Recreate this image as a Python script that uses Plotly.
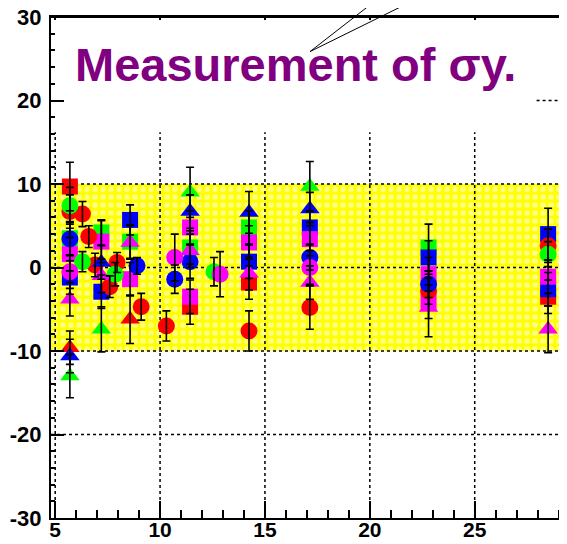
import plotly.graph_objects as go

# ---------------- data ----------------
x_range = [4.8, 29.4]
y_range = [-30, 30]
band = [-10, 10]
x_ticks = [5, 10, 15, 20, 25]
x_tick_labels = ["5", "10", "15", "20", "25"]
y_ticks = [-30, -20, -10, 0, 10, 20, 30]
y_tick_labels = ["-30", "-20", "-10", "0", "10", "20", "30"]
grid_x = [5, 10, 15, 20, 25]
grid_y = [-20, -10, 0, 10]
grid_top = 16.2          # grid lines hidden above this (title box)
grid_y20_start = 27.95   # the y=20 grid line is only visible from here

title_text = "Measurement of σy."

# red circles
rc_x = [5.7, 6.3, 6.6, 6.9, 7.6, 7.95, 9.1, 10.3, 14.24, 17.14, 22.8, 28.5]
rc_y = [6.7, 6.4, 3.7, 0.3, -2.3, 0.6, -4.7, -7.0, -7.6, -4.8, -2.8, 2.6]
rc_e = [2.0, 1.5, 1.3, 1.4, 1.3, 1.2, 1.6, 1.8, 2.4, 2.6, 1.6, 2.0]
# green circles
gc_x = [5.7, 6.3, 7.86, 12.57, 28.5]
gc_y = [7.4, 0.7, -0.8, -0.5, 1.6]
gc_e = [2.2, 1.2, 1.4, 1.7, 1.5]
# blue circles
bc_x = [5.7, 8.9, 10.7, 11.43, 17.14, 22.8]
bc_y = [3.4, 0.2, -1.4, 0.7, 1.2, -2.0]
bc_e = [2.0, 1.0, 1.7, 2.0, 1.5, 1.6]
# magenta circles
mc_x = [5.7, 10.7, 12.86, 17.14]
mc_y = [-0.5, 1.2, -0.8, 0.0]
mc_e = [2.0, 2.8, 2.7, 2.0]
# red squares
rs_x = [5.7, 11.43, 14.24, 28.5]
rs_y = [9.7, -4.7, -1.8, -3.5]
rs_e = [2.9, 2.1, 2.0, 2.0]
# green squares
gs_x = [5.7, 7.2, 8.57, 11.43, 14.24, 22.8]
gs_y = [3.5, 4.2, 3.1, 2.4, 4.8, 2.4]
gs_e = [2.0, 1.5, 2.0, 2.0, 2.0, 2.8]
# blue squares
bs_x = [5.7, 7.2, 8.57, 14.24, 17.14, 22.8, 28.5, 28.5]
bs_y = [-1.2, -2.9, 5.7, 0.7, 4.8, 1.2, 4.0, -2.6]
bs_e = [2.0, 2.0, 1.8, 2.0, 2.0, 2.0, 3.1, 2.0]
# magenta squares
ms_x = [5.7, 7.2, 8.57, 11.43, 11.43, 14.24, 17.14, 22.8, 22.8, 28.5]
ms_y = [1.6, 3.1, -1.4, 4.8, -3.5, 3.0, 3.4, -0.8, -4.1, -1.1]
ms_e = [2.0, 2.5, 2.0, 2.0, 2.0, 2.0, 2.0, 2.0, 2.0, 2.0]
# red triangles
rt_x = [5.7, 8.57]
rt_y = [-9.6, -6.2]
rt_e = [2.0, 2.9]
# green triangles
gt_x = [5.7, 7.2, 11.43, 17.14]
gt_y = [-13.0, -7.4, 9.0, 9.7]
gt_e = [2.6, 2.7, 3.0, 3.0]
# blue triangles
bt_x = [5.7, 7.2, 11.43, 14.24, 17.14]
bt_y = [-10.6, 0.6, 6.7, 6.6, 7.0]
bt_e = [2.0, 2.0, 2.0, 2.5, 2.0]
# magenta triangles
mt_x = [5.7, 7.2, 8.57, 11.43, 14.24, 17.14, 22.8, 28.5]
mt_y = [-3.8, -1.0, 3.0, 2.0, -0.7, -1.8, -4.8, -7.4]
mt_e = [2.0, 2.0, 2.0, 2.0, 2.0, 2.0, 3.5, 2.8]

RED, GREEN, BLUE, MAGENTA = "#ff0000", "#00ff00", "#0000ff", "#ff00ff"

series = [
    # squares first, then circles, then triangles
    (rs_x, rs_y, rs_e, RED, "square"),
    (gs_x, gs_y, gs_e, GREEN, "square"),
    (bs_x, bs_y, bs_e, BLUE, "square"),
    (ms_x, ms_y, ms_e, MAGENTA, "square"),
    (rc_x, rc_y, rc_e, RED, "circle"),
    (gc_x, gc_y, gc_e, GREEN, "circle"),
    (bc_x, bc_y, bc_e, BLUE, "circle"),
    (mc_x, mc_y, mc_e, MAGENTA, "circle"),
    (rt_x, rt_y, rt_e, RED, "triangle-up"),
    (gt_x, gt_y, gt_e, GREEN, "triangle-up"),
    (bt_x, bt_y, bt_e, BLUE, "triangle-up"),
    (mt_x, mt_y, mt_e, MAGENTA, "triangle-up"),
]
marker_size = {"square": 16, "circle": 17, "triangle-up": 17}

fig = go.Figure()

# hatched yellow band: white holes on yellow
fig.add_trace(go.Scatter(
    x=[x_range[0], x_range[1], x_range[1], x_range[0], x_range[0]],
    y=[band[0], band[0], band[1], band[1], band[0]],
    mode="lines", line=dict(width=0), fill="toself", fillcolor="#ffff00",
    fillpattern=dict(shape=".", fgcolor="white", bgcolor="#ffff00",
                     size=8, solidity=0.4),
    hoverinfo="skip"))

# dotted grid lines (drawn above the band)
gx, gy = [], []
for g in grid_x:
    gx += [g, g, None]
    gy += [y_range[0], grid_top, None]
for g in grid_y:
    gx += [x_range[0], x_range[1], None]
    gy += [g, g, None]
gx += [grid_y20_start, x_range[1], None]
gy += [20, 20, None]
fig.add_trace(go.Scatter(x=gx, y=gy, mode="lines",
                         line=dict(color="black", width=1.5, dash="3px,3px"),
                         hoverinfo="skip"))

# markers
for sx, sy, se, col, sym in series:
    fig.add_trace(go.Scatter(x=sx, y=sy, mode="markers",
                             marker=dict(color=col, symbol=sym,
                                         size=marker_size[sym],
                                         line=dict(width=0))))

# error bars on top
for sx, sy, se, col, sym in series:
    fig.add_trace(go.Scatter(x=sx, y=sy, mode="markers",
                             marker=dict(opacity=0, size=2),
                             error_y=dict(type="data", array=se, color="black",
                                          thickness=1.6, width=4)))

# dummy trace for top axis
fig.add_trace(go.Scatter(x=[None], y=[None], xaxis="x2", showlegend=False))

tickfont = dict(family="Liberation Sans, Arial, sans-serif", size=22,
                color="black", weight="bold")
xtickfont = dict(tickfont, size=21)

# the page body adds an 8px offset; compensate in size and margins
fig.update_layout(
    width=559, height=536,
    margin=dict(l=43, r=0, t=9, b=26, autoexpand=False),
    plot_bgcolor="white", paper_bgcolor="white",
    showlegend=False,
    xaxis=dict(range=x_range, tickvals=x_ticks, ticktext=x_tick_labels,
               showgrid=False, zeroline=False,
               automargin=False, ticklabeloverflow="allow",
               showline=True, linecolor="black", linewidth=2,
               ticks="inside", ticklen=17, tickwidth=2, tickcolor="black",
               minor=dict(dtick=1, tick0=5, ticks="inside", ticklen=8,
                          tickwidth=1.5, tickcolor="black", showgrid=False),
               tickfont=xtickfont, ticklabelstandoff=-8),
    xaxis2=dict(range=x_range, overlaying="x", side="top", tickvals=x_ticks,
                automargin=False,
                showticklabels=False, showgrid=False, zeroline=False,
                showline=True, linecolor="black", linewidth=2,
                ticks="inside", ticklen=3, tickwidth=1.5, tickcolor="black"),
    yaxis=dict(range=y_range, tickvals=y_ticks, ticktext=y_tick_labels,
               showgrid=False, zeroline=False,
               automargin=False, ticklabeloverflow="allow",
               showline=True, linecolor="black", linewidth=2,
               ticks="inside", ticklen=13, tickwidth=2, tickcolor="black",
               minor=dict(dtick=2, tick0=0, ticks="inside", ticklen=4,
                          tickwidth=1.5, tickcolor="black", showgrid=False),
               tickfont=tickfont, ticklabelstandoff=3),
)

# top frame line
fig.add_shape(type="line", xref="paper", yref="paper", x0=0, x1=1, y0=1, y1=1,
              line=dict(color="black", width=2))

# title text
fig.add_annotation(text=title_text, xref="paper", yref="paper",
                   x=0.0426, y=0.905, xanchor="left", yanchor="middle",
                   showarrow=False,
                   font=dict(family="Liberation Sans, Arial, sans-serif",
                             size=47, color="#800080", weight="bold"))

# callout lines
for xe in [0.663, 0.756]:
    fig.add_shape(type="line", xref="paper", yref="paper",
                  x0=0.502, y0=0.931, x1=xe, y1=1.06,
                  line=dict(color="black", width=1))

fig.write_html("out.html")
